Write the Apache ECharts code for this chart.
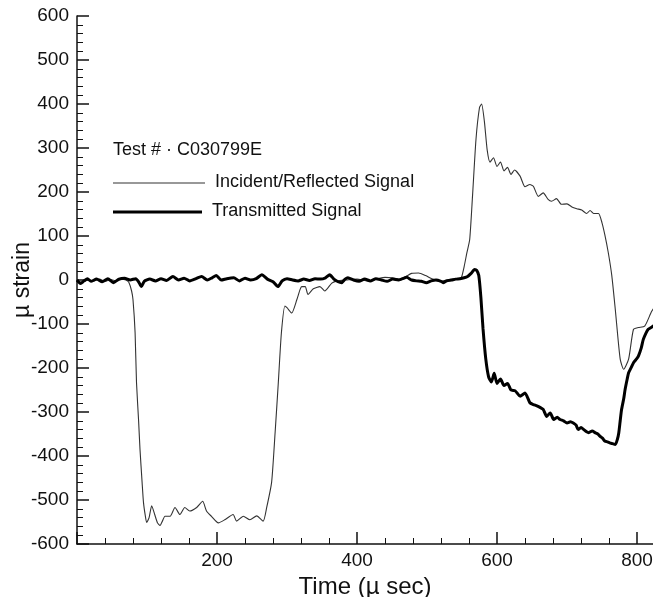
<!DOCTYPE html>
<html>
<head>
<meta charset="utf-8">
<script src="https://cdn.jsdelivr.net/npm/echarts@6/dist/echarts.min.js"></script>
<style>
html,body{margin:0;padding:0;background:#fff;}
#chart{width:653px;height:597px;}
</style>
</head>
<body>
<div id="chart"></div>
<script>
// ---- data (time in µs, strain in µstrain) ----
const incidentTime = [0,8,16,24,32,40,48,56,64,70,74,78,80,83,85,88,90,93,95,97.5,99.5,103,106.7,111,115,118.6,122,125.7,133,140,147,154,161,171,179.5,185,192,202,211,223,228,237.6,247,256.7,266,271,278,283,287.6,292,297,300,306.7,314,318.6,321,326,330,337.6,347,354,364,372,385,400,415,430,440,450,460,470,478,488,498,508,518,528,538,545,549,553,557,561,565,570,575,578,582,586,590,595,600,605,610,615,620,625,633,640,647,652,659,666,673,678,685,692,700,707,714,721,728,733,738,745,750,754,759,764,769,776,781,788,795,802,811,821,830];
const incidentValue = [-3,-5,0,-2,2,-3,1,-2,2,0,-5,-25,-45,-120,-233,-320,-385,-460,-506,-535,-551,-540,-513,-533,-552,-558,-548,-537,-537,-517,-533,-517,-525,-517,-503,-525,-537,-552,-545,-533,-548,-537,-545,-536,-548,-517,-460,-347,-233,-120,-59,-63,-75,-45,-22,-15,-15,-33,-20,-15,-25,-7,-2,0,2,-2,3,6,5,2,8,15,16,10,2,-3,0,2,3,5,30,62,92,190,320,392,400,360,295,268,278,258,268,248,256,240,250,236,212,217,213,190,198,183,179,185,172,173,166,162,159,151,158,151,151,130,103,62,10,-67,-180,-203,-180,-112,-108,-105,-71,-50];

const transmittedTime = [0,5,10,15,20,28,36,44,52,60,68,76,84,88,92,96,104,112,120,128,137,145,153,161,170,178,186,193,199,206,214,224,232,240,248,256,264,272,280,287,293,300,308,316,324,332,340,348,355,361,367,373,378,383,387,395,403,411,419,427,435,443,451,459,465,471,478,485,492,499,506,513,520,523,528,535,541,547,553,558,563,568,571,574,577,580,584,588,592,596,600,605,610,615,620,626,633,640,647,652,657,662,666,671,676,681,686,690,695,700,705,709,713,716,720,724,728,731,736,740,744,747,751,754,758,761,765,769,772,774,776,778,781,783,786,788,792,795,799,802,806,809,813,816,820,823,830];
const transmittedValue = [0,-8,-2,3,-3,2,-4,3,-6,2,4,0,3,-4,-15,-3,2,-2,3,-1,8,0,4,-2,3,8,0,5,10,0,3,5,-2,4,0,3,12,2,-4,-15,-2,3,0,-2,2,-1,3,2,5,12,2,-4,-6,2,5,0,-3,2,-2,3,0,-3,2,0,3,6,0,-2,-3,-6,-2,0,-3,-6,-2,0,2,3,5,8,15,24,22,10,-40,-110,-180,-220,-232,-212,-235,-225,-240,-235,-250,-252,-264,-257,-279,-283,-286,-290,-294,-310,-302,-317,-312,-317,-320,-325,-322,-325,-330,-340,-335,-340,-345,-347,-343,-347,-350,-355,-360,-366,-368,-370,-372,-374,-362,-347,-320,-294,-270,-249,-225,-211,-198,-188,-180,-173,-155,-135,-120,-112,-108,-105,-95];

const xTickLabels = [200, 400, 600, 800];
const seriesNames = ['Incident/Reflected Signal', 'Transmitted Signal'];
const testLabel = 'Test # · C030799E';

const pairs = (xs, ys) => xs.map((x, i) => [x, ys[i]]);

const FONT = '"Liberation Sans", Arial, Helvetica, sans-serif';
const chart = echarts.init(document.getElementById('chart'), null, {renderer: 'canvas'});

chart.setOption({
  animation: false,
  backgroundColor: '#ffffff',
  grid: {left: 77, top: 16, bottom: 53, width: 700, containLabel: false, outerBoundsMode: 'none'},
  xAxis: {
    type: 'value', min: 0, max: 1000, interval: 200,
    name: 'Time (µ sec)', nameLocation: 'middle', nameGap: 21,
    nameTextStyle: {fontFamily: FONT, fontSize: 24, color: '#111', padding: [0, 124, 0, 0]},
    axisLine: {show: true, onZero: false, lineStyle: {color: '#111', width: 1.5}},
    axisTick: {show: true, inside: true, length: 12, lineStyle: {color: '#111', width: 1.5}},
    minorTick: {show: true, splitNumber: 5, length: 6, lineStyle: {color: '#111', width: 1}},
    axisLabel: {
      fontFamily: FONT, fontSize: 19, color: '#111', margin: 7,
      formatter: v => (xTickLabels.indexOf(v) >= 0 ? String(v) : '')
    },
    splitLine: {show: false}
  },
  yAxis: {
    type: 'value', min: -600, max: 600, interval: 100,
    name: 'µ strain', nameLocation: 'middle', nameGap: 43, nameMoveOverlap: false,
    nameTextStyle: {fontFamily: FONT, fontSize: 23, color: '#111'},
    axisLine: {show: true, onZero: false, lineStyle: {color: '#111', width: 1.5}},
    axisTick: {show: true, inside: true, length: 12, lineStyle: {color: '#111', width: 1.5}},
    minorTick: {show: true, splitNumber: 5, length: 6, lineStyle: {color: '#111', width: 1}},
    axisLabel: {fontFamily: FONT, fontSize: 19, color: '#111', margin: 8},
    splitLine: {show: false}
  },
  series: [
    {
      name: seriesNames[0], type: 'line', data: pairs(incidentTime, incidentValue),
      showSymbol: false, symbol: 'none', smooth: 0.2,
      lineStyle: {color: '#333', width: 1.1}, z: 2
    },
    {
      name: seriesNames[1], type: 'line', data: pairs(transmittedTime, transmittedValue),
      showSymbol: false, symbol: 'none', smooth: 0.2,
      lineStyle: {color: '#000', width: 3}, z: 3
    }
  ],
  graphic: [
    {type: 'text', left: 113, top: 141, style: {text: testLabel, font: '18px ' + FONT, fill: '#111'}},
    {type: 'line', shape: {x1: 113, y1: 183, x2: 205, y2: 183}, style: {stroke: '#333', lineWidth: 1.1}},
    {type: 'text', left: 215, top: 173, style: {text: seriesNames[0], font: '18px ' + FONT, fill: '#111'}},
    {type: 'line', shape: {x1: 113, y1: 212, x2: 202, y2: 212}, style: {stroke: '#000', lineWidth: 3}},
    {type: 'text', left: 212, top: 202, style: {text: seriesNames[1], font: '18px ' + FONT, fill: '#111'}}
  ]
});
</script>
</body>
</html>
